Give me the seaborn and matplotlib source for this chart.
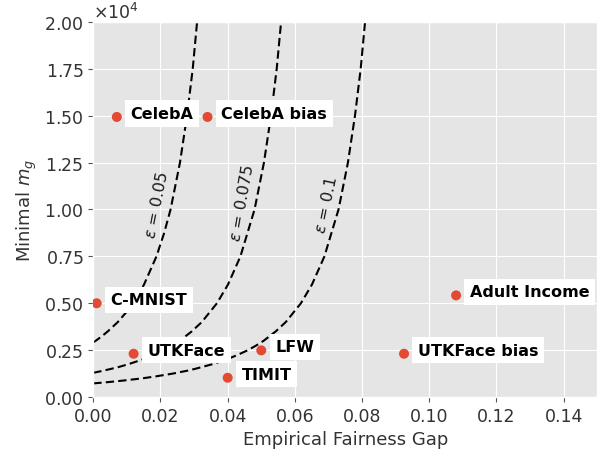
import numpy as np
import pandas as pd
import matplotlib
matplotlib.use("Agg")
import matplotlib.pyplot as plt
import seaborn as sns

# datasets: empirical fairness gap vs minimal m_g
names = ["CelebA", "CelebA bias", "C-MNIST", "UTKFace", "LFW", "TIMIT",
         "UTKFace bias", "Adult Income"]
gaps = [0.007, 0.034, 0.001, 0.012, 0.050, 0.040, 0.0925, 0.108]
min_mg = [14930, 14930, 5000, 2310, 2490, 1030, 2310, 5420]

# epsilon bound curves (gap, m_g)
eps_vals = [0.05, 0.075, 0.1]
curve_m = {
    0.05: [2920, 3000, 3250, 3500, 4000, 4500, 5000, 5500, 6000, 7500, 8750,
           10000, 12500, 15000, 17500, 20000],
    0.075: [1298, 1350, 1400, 1500, 1600, 1750, 2000, 2250, 2500, 2750, 3000,
            3500, 4000, 5000, 6000, 7500, 10000, 12500, 15000, 17500, 20000],
    0.1: [730, 760, 800, 850, 900, 1000, 1100, 1250, 1400, 1500, 1750, 2000,
          2250, 2500, 2750, 3000, 3500, 4000, 5000, 6000, 7500, 10000, 12500,
          15000, 17500, 20000],
}
curve_gap = {
    0.05: [0.0, 0.0007, 0.0026, 0.0043, 0.0073, 0.0097, 0.0118, 0.0136,
           0.0151, 0.0188, 0.0211, 0.0230, 0.0258, 0.0279, 0.0296, 0.0309],
    0.075: [0.0, 0.0015, 0.0028, 0.0052, 0.0075, 0.0104, 0.0146, 0.0180,
            0.0210, 0.0235, 0.0257, 0.0293, 0.0323, 0.0368, 0.0401, 0.0438,
            0.0480, 0.0508, 0.0529, 0.0546, 0.0559],
    0.1: [0.0, 0.0020, 0.0045, 0.0073, 0.0099, 0.0146, 0.0185, 0.0236,
          0.0278, 0.0302, 0.0354, 0.0396, 0.0430, 0.0460, 0.0485, 0.0507,
          0.0543, 0.0573, 0.0618, 0.0651, 0.0688, 0.0730, 0.0758, 0.0779,
          0.0796, 0.0809],
}
# where the epsilon labels sit
eps_label_pos = {0.05: (0.0190, 10300), 0.075: (0.0443, 10400), 0.1: (0.0693, 10300)}
eps_label_rot = {0.05: 79, 0.075: 80, 0.1: 78}

plt.style.use("ggplot")
plt.rcParams["axes.labelcolor"] = "#333333"
plt.rcParams["xtick.labelcolor"] = "#333333"
plt.rcParams["ytick.labelcolor"] = "#333333"
plt.rcParams["text.color"] = "#333333"

df = pd.DataFrame({"name": names, "gap": gaps, "m": min_mg})

fig = plt.figure(figsize=(6.02, 4.56), dpi=100)
ax = fig.add_axes([0.155, 0.127, 0.837, 0.823])

for e in eps_vals:
    cdf = pd.DataFrame({"gap": curve_gap[e], "m": curve_m[e]})
    sns.lineplot(data=cdf, x="gap", y="m", ax=ax, color="black",
                 linestyle=(0, (4, 2)), linewidth=1.5, sort=False, zorder=2)
    lx, ly = eps_label_pos[e]
    ax.text(lx, ly, r"$\epsilon$ = " + str(e), rotation=eps_label_rot[e],
            ha="center", va="center", fontsize=11.5, color="#1a1a1a")

sns.scatterplot(data=df, x="gap", y="m", ax=ax, color="#E24A33", s=52,
                edgecolor="none", zorder=3)

for n, g, m in zip(names, gaps, min_mg):
    ax.annotate(n, (g, m), xytext=(10, 2.5), textcoords="offset points",
                fontsize=11.5, fontweight="bold", color="black", va="center",
                bbox=dict(boxstyle="square,pad=0.35", fc="white", ec="none"))

ax.set_xlim(0, 0.15)
ax.set_ylim(0, 20000)
ax.set_xticks(np.arange(0, 0.141, 0.02))
ax.set_yticks(np.arange(0, 20001, 2500))
ax.ticklabel_format(axis="y", style="sci", scilimits=(4, 4), useMathText=True)
ax.yaxis.get_offset_text().set_fontsize(12.5)
ax.tick_params(labelsize=12.5)
ax.set_xlabel("Empirical Fairness Gap", fontsize=13)
ax.set_ylabel("Minimal $m_g$", fontsize=13)

fig.savefig("out.png", dpi=100)
